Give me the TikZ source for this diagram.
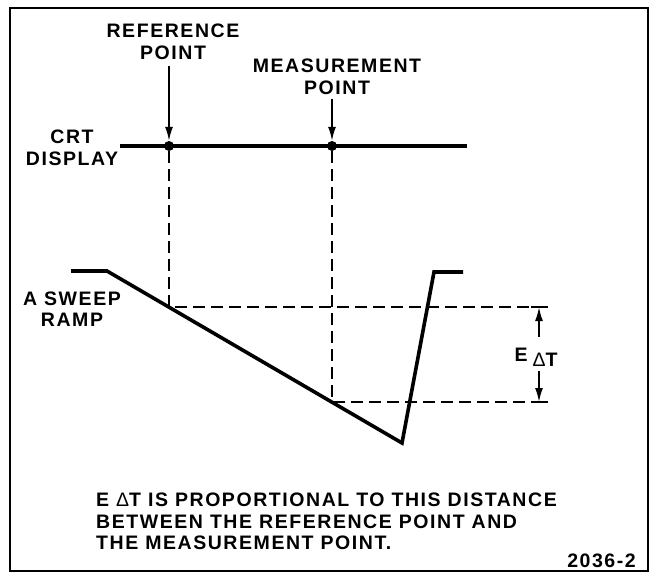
\documentclass[tikz,border=0pt]{standalone}
\usepackage{fontspec}
\setmainfont{Liberation Sans}[LetterSpace=8]
\usetikzlibrary{arrows.meta}
\tikzset{
  lbl/.style={font=\fontsize{19.5}{21.5}\selectfont\bfseries, align=center, inner sep=0pt},
  trace/.style={line width=3.6pt, line join=miter},
  guide/.style={line width=1.8pt, dash pattern=on 12pt off 6pt},
  ptr/.style={-{Latex[length=14pt,width=8pt]}, line width=1.8pt},
  bar/.style={line width=1.8pt},
  spot/.style={circle, fill, inner sep=0pt, minimum size=10pt},
}
\begin{document}
\begin{tikzpicture}[x=1pt,y=-1pt]
  \useasboundingbox (0,0) rectangle (651,579);
  \draw[line width=1.6pt] (10,8) rectangle (648,571);
  % crt trace with the two points
  \node[lbl] (crt) at (72,148) {CRT\\DISPLAY};
  \coordinate (crtL) at (120,146);
  \coordinate (crtR) at (467,146);
  \draw[trace] (crtL) -- (crtR);
  \node[spot] (refdot) at (169,146) {};
  \node[spot] (measdot) at (332,146) {};
  \node[lbl] (refl) at (173,42) {REFERENCE\\POINT};
  \node[lbl] (measl) at (337,77) {MEASUREMENT\\POINT};
  \draw[ptr, shorten <=6pt] (refl.south -| refdot) -- (refdot);
  \draw[ptr, shorten <=4pt] (measl.south -| measdot) -- (measdot);
  % sweep ramp
  \node[lbl] (sweep) at (72,309) {A SWEEP\\RAMP};
  \coordinate (r0) at (71,271);
  \coordinate (r1) at (107,271);
  \coordinate (r2) at (402,443);
  \coordinate (r3) at (434,272);
  \coordinate (r4) at (463,272);
  \draw[trace] (r0) -- (r1) -- (r2) -- (r3) -- (r4);
  \coordinate (hitA) at (169,307);
  \coordinate (hitB) at (332,402);
  \coordinate (dimA) at (539,307);
  \coordinate (dimB) at (539,402);
  \draw[guide] (refdot.south) -- (hitA) -- ([xshift=-8pt]dimA);
  \draw[guide] (measdot.south) -- (hitB) -- ([xshift=-8pt]dimB);
  \draw[bar] ([xshift=-8pt]dimA) -- ([xshift=9pt]dimA);
  \draw[bar] ([xshift=-8pt]dimB) -- ([xshift=9pt]dimB);
  % E delta T
  \node[lbl] (edt) at (536,357) {E\hspace{5pt}\raisebox{-5pt}{{\mdseries Δ}T}};
  \draw[ptr, shorten <=11pt] (edt.north -| dimA) -- (dimA);
  \draw[ptr, shorten <=5pt] (edt.south -| dimB) -- (dimB);
  \node[lbl, align=left, anchor=north west] (note) at (96,493)
    {E {\mdseries Δ}T IS PROPORTIONAL TO THIS DISTANCE\\BETWEEN THE REFERENCE POINT AND\\THE MEASUREMENT POINT.};
  \node[lbl, anchor=base east] (fig) at (636,567) {2036-2};
\end{tikzpicture}
\end{document}
